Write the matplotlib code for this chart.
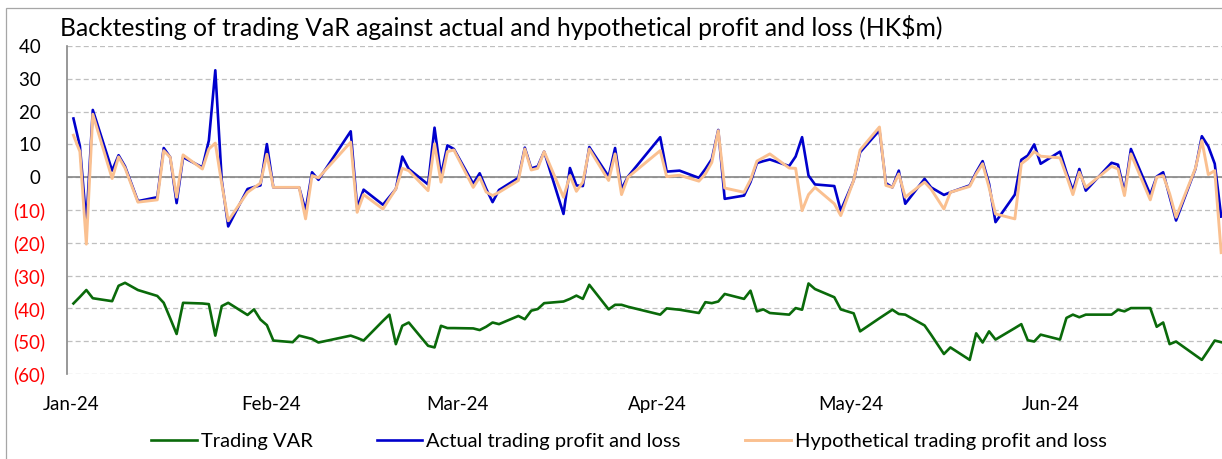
import matplotlib
matplotlib.use("Agg")
import matplotlib.pyplot as plt
import matplotlib.dates as mdates
import matplotlib.transforms as mtransforms
from matplotlib.patches import Rectangle
import pandas as pd
from datetime import datetime

plt.rcParams['font.family'] = ['Lato', 'DejaVu Sans']

title = "Backtesting of trading VaR against actual and hypothetical profit and loss (HK$m)"

dates = [
    "2024-01-02", "2024-01-03", "2024-01-04", "2024-01-05", "2024-01-08", "2024-01-09",
    "2024-01-10", "2024-01-11", "2024-01-12", "2024-01-15", "2024-01-16", "2024-01-17",
    "2024-01-18", "2024-01-19", "2024-01-22", "2024-01-23", "2024-01-24", "2024-01-25",
    "2024-01-26", "2024-01-29", "2024-01-30", "2024-01-31", "2024-02-01", "2024-02-02",
    "2024-02-05", "2024-02-06", "2024-02-07", "2024-02-08", "2024-02-09", "2024-02-14",
    "2024-02-15", "2024-02-16", "2024-02-19", "2024-02-20", "2024-02-21", "2024-02-22",
    "2024-02-23", "2024-02-26", "2024-02-27", "2024-02-28", "2024-02-29", "2024-03-01",
    "2024-03-04", "2024-03-05", "2024-03-06", "2024-03-07", "2024-03-08", "2024-03-11",
    "2024-03-12", "2024-03-13", "2024-03-14", "2024-03-15", "2024-03-18", "2024-03-19",
    "2024-03-20", "2024-03-21", "2024-03-22", "2024-03-25", "2024-03-26", "2024-03-27",
    "2024-03-28", "2024-04-02", "2024-04-03", "2024-04-05", "2024-04-08", "2024-04-09",
    "2024-04-10", "2024-04-11", "2024-04-12", "2024-04-15", "2024-04-16", "2024-04-17",
    "2024-04-18", "2024-04-19", "2024-04-22", "2024-04-23", "2024-04-24", "2024-04-25",
    "2024-04-26", "2024-04-29", "2024-04-30", "2024-05-02", "2024-05-03", "2024-05-06",
    "2024-05-07", "2024-05-08", "2024-05-09", "2024-05-10", "2024-05-13", "2024-05-14",
    "2024-05-16", "2024-05-17", "2024-05-20", "2024-05-21", "2024-05-22", "2024-05-23",
    "2024-05-24", "2024-05-27", "2024-05-28", "2024-05-29", "2024-05-30", "2024-05-31",
    "2024-06-03", "2024-06-04", "2024-06-05", "2024-06-06", "2024-06-07", "2024-06-11",
    "2024-06-12", "2024-06-13", "2024-06-14", "2024-06-17", "2024-06-18", "2024-06-19",
    "2024-06-20", "2024-06-21", "2024-06-24", "2024-06-25", "2024-06-26", "2024-06-27",
    "2024-06-28",
]

trading_var = [
    -38.5, -36.5, -34.4, -36.9, -37.8, -33.1,
    -32.2, -33.3, -34.4, -36.2, -38.3, -43.0,
    -47.8, -38.3, -38.5, -38.7, -48.3, -39.3,
    -38.3, -42.0, -40.3, -43.4, -45.1, -49.8,
    -50.3, -48.3, -48.8, -49.3, -50.4, -48.3,
    -49.0, -49.8, -43.8, -41.9, -50.9, -45.3,
    -44.3, -51.4, -51.9, -45.3, -46.0, -46.0,
    -46.1, -46.6, -45.6, -44.3, -44.8, -42.3,
    -43.3, -40.7, -40.2, -38.4, -37.9, -37.1,
    -36.1, -37.1, -32.8, -40.3, -38.9, -38.9,
    -39.5, -41.9, -40.0, -40.4, -41.4, -38.1,
    -38.4, -37.9, -35.6, -37.1, -34.6, -40.9,
    -40.3, -41.4, -41.9, -39.9, -40.4, -32.4,
    -34.1, -36.6, -40.3, -41.5, -47.0, -43.0,
    -41.7, -40.4, -41.7, -41.9, -45.2, -48.0,
    -53.9, -51.9, -55.7, -47.6, -50.4, -47.0,
    -49.5, -46.0, -44.8, -49.7, -50.1, -48.0,
    -49.5, -42.9, -41.9, -42.7, -41.9, -41.9,
    -40.4, -40.9, -39.9, -39.9, -45.6, -44.3,
    -50.9, -50.1, -54.3, -55.7, -52.8, -49.8,
    -50.3,
]

actual_pl = [
    17.9, 9.5, -14.0, 20.5, 2.0, 6.7,
    3.3, -2.0, -7.3, -6.1, 8.9, 6.1,
    -7.9, 6.1, 3.0, 11.2, 32.6, -1.0,
    -15.0, -3.6, -3.0, -2.5, 10.1, -3.1,
    -3.1, -3.1, -10.2, 1.5, -0.8, 14.0,
    -9.2, -3.8, -8.4, -6.0, -3.6, 6.3,
    2.5, -2.2, 15.1, 0.5, 9.7, 8.6,
    -2.0, 1.2, -3.5, -7.6, -3.9, -0.2,
    9.0, 2.7, 3.3, 7.8, -11.2, 2.8,
    -2.5, -2.7, 9.2, 0.2, 8.9, -3.6,
    0.2, 12.2, 1.7, 2.0, -0.2, 2.5,
    5.5, 14.4, -6.6, -5.6, -1.5, 4.3,
    4.9, 5.4, 3.4, 6.3, 12.2, 0.5,
    -2.2, -2.7, -10.2, -1.0, 7.6, 14.3,
    -1.8, -3.1, 2.0, -8.1, -0.5, -3.1,
    -5.4, -4.6, -2.5, 1.5, 4.9, -2.0,
    -13.7, -5.3, 5.3, 6.6, 10.0, 4.1,
    7.8, 1.5, -4.1, 2.5, -4.1, 4.4,
    3.8, -4.6, 8.6, -5.3, 0.2, 1.5,
    -5.9, -13.2, 2.5, 12.5, 9.4, 4.1,
    -12.0,
]

hypothetical_pl = [
    12.8, 7.8, -20.4, 19.2, -0.4, 6.2,
    2.8, -2.4, -7.6, -6.9, 8.1, 6.1,
    -6.1, 6.8, 2.5, 8.6, 10.4, -2.0,
    -13.3, -4.6, -3.2, -1.8, 7.0, -3.1,
    -3.1, -3.1, -12.7, 0.5, -0.2, 10.7,
    -10.7, -5.3, -9.7, -6.6, -3.6, 2.7,
    2.0, -4.1, 10.2, -1.5, 7.8, 8.3,
    -3.1, 0.0, -4.5, -5.6, -4.6, -1.0,
    8.6, 2.2, 2.7, 7.8, -6.1, 0.5,
    -4.3, -1.5, 8.6, -1.0, 7.1, -5.3,
    0.0, 8.1, 0.2, 0.6, -1.2, 1.0,
    4.5, 14.2, -3.3, -4.6, -0.8, 4.9,
    6.0, 7.1, 2.8, 2.7, -10.2, -5.3,
    -3.1, -8.1, -11.7, -1.0, 8.3, 15.3,
    -2.5, -3.1, 1.0, -6.1, -1.5, -3.6,
    -9.7, -4.6, -2.8, 1.0, 4.1, -3.1,
    -11.2, -12.7, 4.1, 5.6, 7.8, 6.4,
    5.9, 0.5, -5.3, 1.5, -3.1, 3.3,
    2.5, -5.6, 7.1, -6.9, 0.0, 0.5,
    -5.0, -12.2, 2.7, 11.2, 0.8, 2.0,
    -23.0,
]

series_labels = ["Trading VAR", "Actual trading profit and loss",
                 "Hypothetical trading profit and loss"]
month_ticks = ["2024-01-01", "2024-02-01", "2024-03-01",
               "2024-04-01", "2024-05-01", "2024-06-01"]
y_ticks = [40, 30, 20, 10, 0, -10, -20, -30, -40, -50, -60]

x = pd.to_datetime(dates)

W, H = 1222, 459
fig = plt.figure(figsize=(W / 100, H / 100), dpi=100)
ax = fig.add_axes([67 / W, 85 / H, 1155 / W, 328 / H])

ax.plot(x, trading_var, color="#0A6A0A", lw=1.9, label=series_labels[0], zorder=3)
ax.plot(x, actual_pl, color="#0000CC", lw=1.9, label=series_labels[1], zorder=4)
ax.plot(x, hypothetical_pl, color="#FAC090", lw=2.1, label=series_labels[2], zorder=5)

ax.set_ylim(-60, 40)
ax.set_xlim(datetime(2024, 1, 1, 7, 30), datetime(2024, 6, 28, 3, 0))

ax.set_yticks(y_ticks)
ylabels = []
for v in y_ticks:
    if v < 0:
        ylabels.append(f"({abs(v)})")
    else:
        ylabels.append(f"{v} ")
ax.set_yticklabels(ylabels)
for lab, v in zip(ax.get_yticklabels(), y_ticks):
    lab.set_color("#FF0000" if v < 0 else "#000000")
ax.tick_params(axis="y", length=0, pad=15.5, labelsize=13.5)

ax.set_xticks(pd.to_datetime(month_ticks))
ax.xaxis.set_major_formatter(mdates.DateFormatter("%b-%y"))
ax.tick_params(axis="x", length=0, pad=16, labelsize=13.5)
offset = mtransforms.ScaledTranslation(4 / 100, 0, fig.dpi_scale_trans)
for lab in ax.get_xticklabels():
    lab.set_transform(lab.get_transform() + offset)

ax.grid(axis="y", color="#BFBFBF", lw=0.9, linestyle=(0, (4, 2.5)))
ax.grid(axis="x", visible=False)
ax.set_axisbelow(True)
ax.axhline(0, color="#868686", lw=1.2, zorder=2)

for s in ["top", "right", "bottom"]:
    ax.spines[s].set_visible(False)
ax.spines["left"].set_color("#868686")
ax.spines["left"].set_linewidth(1.2)

fig.text(60 / W, 1 - 28 / H, title, fontsize=17.8, ha="left", va="center", color="#000000")

handles, labels = ax.get_legend_handles_labels()
fig.legend(handles, labels, loc="center", bbox_to_anchor=(629 / W, 1 - 441 / H),
           ncol=3, frameon=False, fontsize=14.5, handlelength=2.25,
           handletextpad=0.2, columnspacing=3.2)

fig.patches.append(Rectangle((6 / W, -0.05), 1.2, 1.05 - 8 / H, transform=fig.transFigure,
                             fill=False, edgecolor="#A6A6A6", lw=0.9))

fig.savefig("out.png", dpi=100)
